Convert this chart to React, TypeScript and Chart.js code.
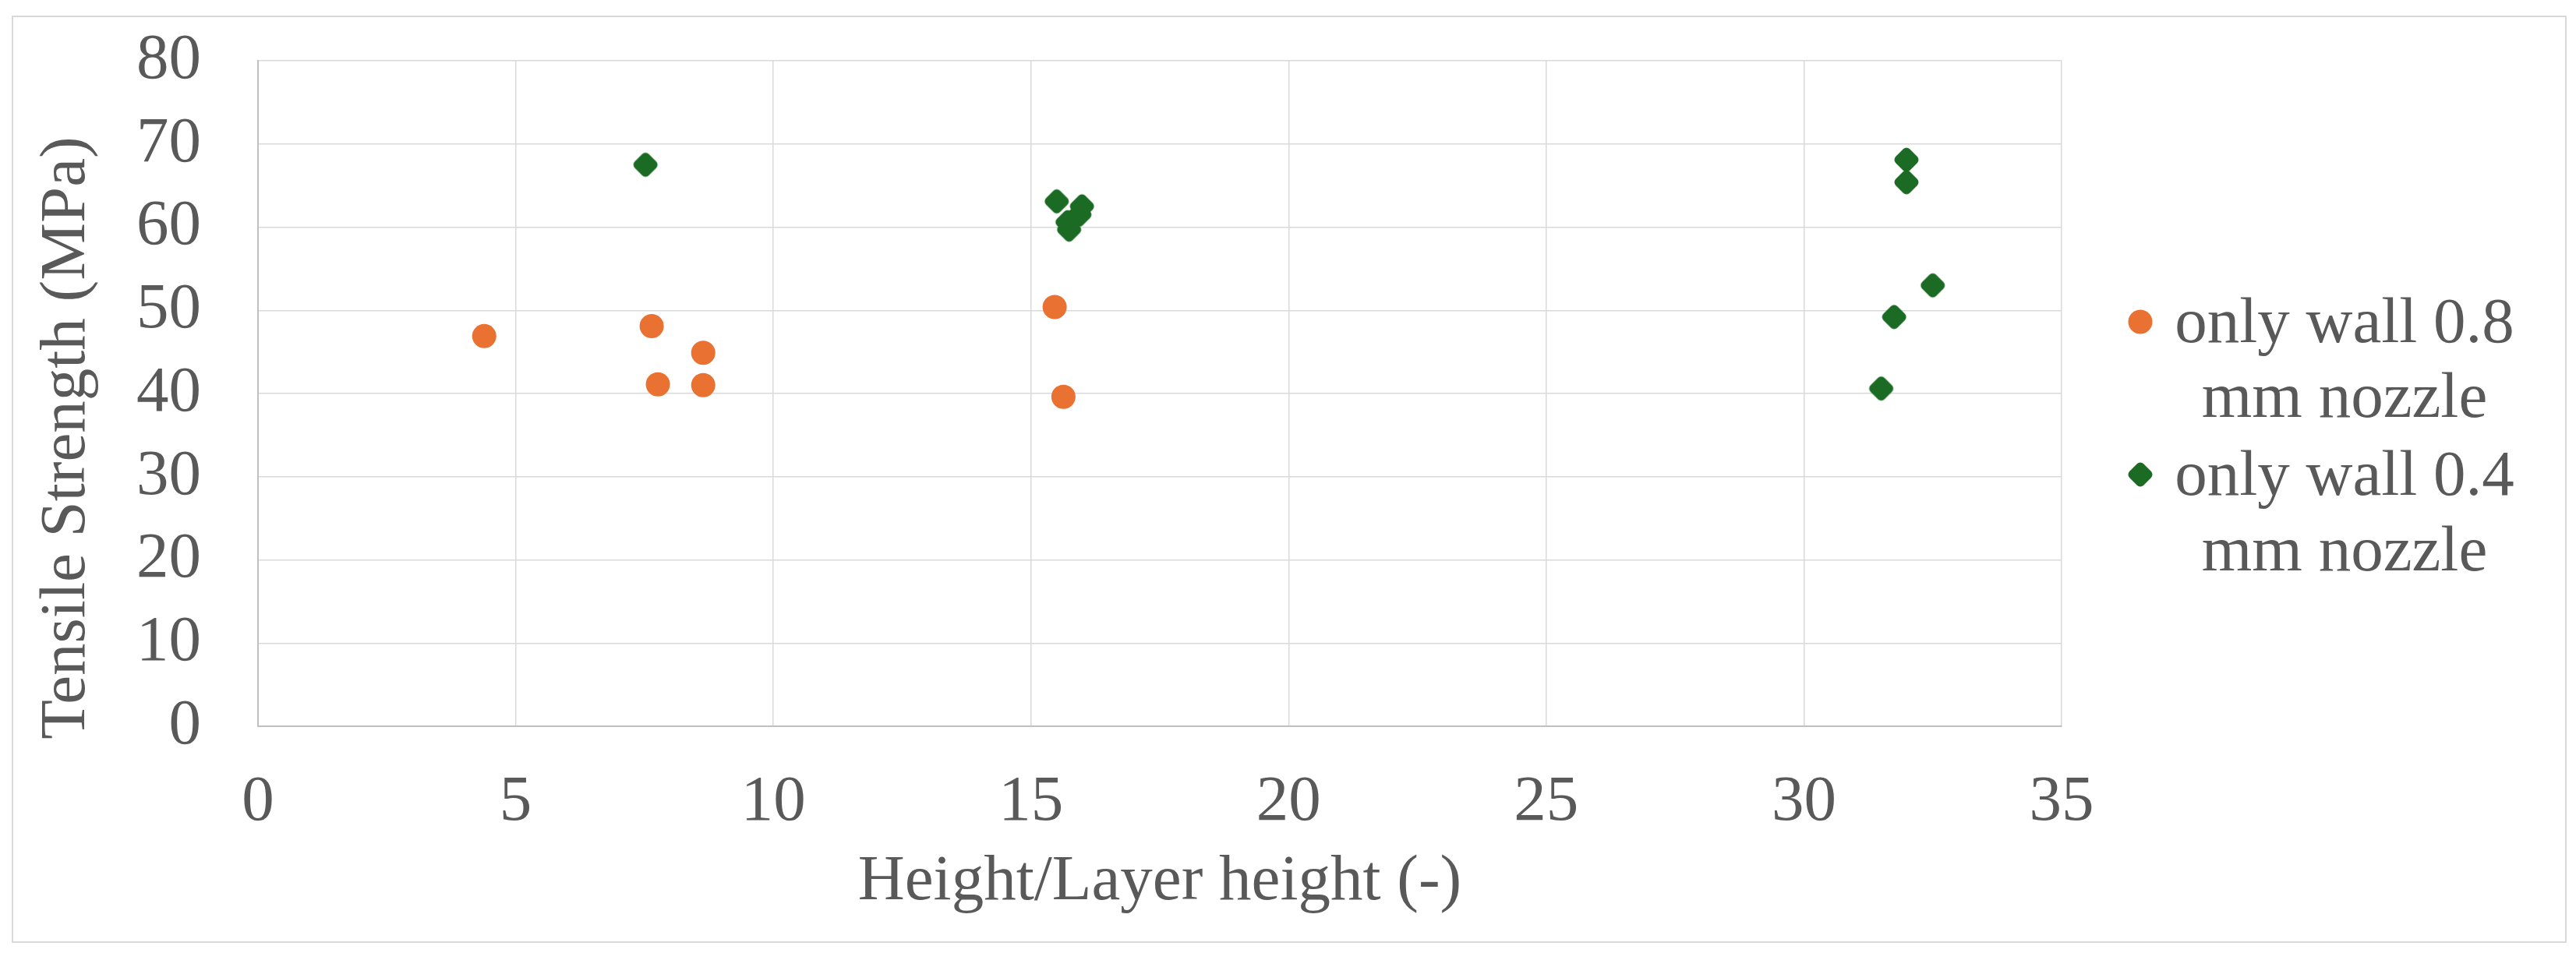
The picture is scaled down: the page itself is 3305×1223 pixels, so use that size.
import React, { useEffect, useRef } from "react";
import { Chart, registerables } from "chart.js";

Chart.register(...registerables);

// ---- data ----
const seriesNames = ["only wall 0.8 mm nozzle", "only wall 0.4 mm nozzle"];
const legendLines08 = ["only wall 0.8", "mm nozzle"];
const legendLines04 = ["only wall 0.4", "mm nozzle"];

const wall08X = [4.39, 7.64, 7.76, 8.64, 8.64, 15.46, 15.63];
const wall08Y = [46.9, 48.1, 41.1, 44.9, 41.0, 50.4, 39.6];

const wall04X = [7.52, 15.5, 15.99, 15.94, 15.71, 15.74, 31.99, 31.99, 32.5, 31.75, 31.5];
const wall04Y = [67.5, 63.1, 62.5, 61.5, 60.6, 59.7, 68.1, 65.4, 53.0, 49.2, 40.6];

const xTitle = "Height/Layer height (-)";
const yTitle = "Tensile Strength (MPa)";
const xRange = [0, 35, 5];
const yRange = [0, 80, 10];

const ORANGE = "#E97132";
const GREEN = "#1C6B25";
const TEXT = "#595959";
const FONT_FAMILY = "'Liberation Serif', 'Times New Roman', serif";
const FS = 83;

const W = 3305;
const H = 1223;

function makeDiamond(color: string): HTMLCanvasElement {
  const c = document.createElement("canvas");
  c.width = 34;
  c.height = 34;
  const ctx = c.getContext("2d")!;
  const x = 17, y = 17, r = 9.5;
  ctx.beginPath();
  ctx.moveTo(x - r, y);
  ctx.lineTo(x, y - r);
  ctx.lineTo(x + r, y);
  ctx.lineTo(x, y + r);
  ctx.closePath();
  ctx.fillStyle = color;
  ctx.strokeStyle = color;
  ctx.lineWidth = 12;
  ctx.lineJoin = "round";
  ctx.fill();
  ctx.stroke();
  return c;
}

export default function App() {
  const ref = useRef<HTMLCanvasElement | null>(null);

  useEffect(() => {
    document.body.style.margin = "0";
    const canvas = ref.current;
    if (!canvas) return;
    const diamond = makeDiamond(GREEN);

    const decorPlugin = {
      id: "decor",
      afterDraw(chart: any) {
        const ctx: CanvasRenderingContext2D = chart.ctx;
        ctx.save();
        // outer border
        ctx.strokeStyle = "#d9d9d9";
        ctx.lineWidth = 2;
        ctx.strokeRect(16, 21, 3276, 1188);

        // y axis title
        ctx.save();
        ctx.translate(86, 562);
        ctx.rotate(-Math.PI / 2);
        ctx.fillStyle = TEXT;
        ctx.font = `${FS}px ${FONT_FAMILY}`;
        ctx.textAlign = "center";
        ctx.textBaseline = "middle";
        ctx.fillText(yTitle, 0, 0);
        ctx.restore();

        // legend
        ctx.fillStyle = TEXT;
        ctx.font = `${FS}px ${FONT_FAMILY}`;
        ctx.textAlign = "center";
        ctx.textBaseline = "alphabetic";
        const cx = 3008;
        ctx.fillText(legendLines08[0], cx, 439);
        ctx.fillText(legendLines08[1], cx, 535);
        ctx.fillText(legendLines04[0], cx, 635);
        ctx.fillText(legendLines04[1], cx, 732);

        ctx.beginPath();
        ctx.fillStyle = ORANGE;
        ctx.arc(2746, 413, 15.5, 0, Math.PI * 2);
        ctx.fill();
        ctx.drawImage(diamond, 2746 - 17, 609 - 17);
        ctx.restore();
      },
    };

    const chart = new Chart(canvas, {
      type: "scatter",
      data: {
        datasets: [
          {
            label: seriesNames[0],
            data: wall08X.map((x, i) => ({ x, y: wall08Y[i] })),
            backgroundColor: ORANGE,
            borderColor: ORANGE,
            pointStyle: "circle",
            pointRadius: 15.5,
            pointBorderWidth: 0,
            pointHoverRadius: 15.5,
          },
          {
            label: seriesNames[1],
            data: wall04X.map((x, i) => ({ x, y: wall04Y[i] })),
            backgroundColor: GREEN,
            borderColor: GREEN,
            pointStyle: diamond,
            pointRadius: 15.5,
            pointBorderWidth: 0,
            pointHoverRadius: 15.5,
          },
        ],
      },
      options: {
        responsive: false,
        animation: false,
        devicePixelRatio: 1,
        layout: { padding: { top: 78, right: 660, bottom: 41, left: 0 } },
        plugins: {
          legend: { display: false },
          tooltip: { enabled: false },
          title: { display: false },
        },
        scales: {
          x: {
            type: "linear",
            min: xRange[0],
            max: xRange[1],
            ticks: {
              stepSize: xRange[2],
              padding: 0,
              autoSkip: false,
              color: TEXT,
              font: { family: FONT_FAMILY, size: FS },
              maxRotation: 0,
            },
            grid: {
              color: "#d9d9d9",
              lineWidth: 1.5,
              drawTicks: true,
              tickLength: 48,
              tickColor: "rgba(0,0,0,0)",
            },
            border: { color: "#bfbfbf", width: 2 },
            title: {
              display: true,
              text: xTitle,
              color: TEXT,
              font: { family: FONT_FAMILY, size: FS },
              padding: { top: 0, bottom: 0 },
            },
            afterFit: (scale: any) => {
              scale.height = 250;
            },
          },
          y: {
            type: "linear",
            min: yRange[0],
            max: yRange[1],
            ticks: {
              stepSize: yRange[2],
              padding: 0,
              autoSkip: false,
              color: TEXT,
              font: { family: FONT_FAMILY, size: FS },
            },
            grid: {
              color: "#d9d9d9",
              lineWidth: 1.5,
              drawTicks: true,
              tickLength: 73,
              tickColor: "rgba(0,0,0,0)",
            },
            border: { color: "#bfbfbf", width: 2 },
            title: { display: false },
            afterFit: (scale: any) => {
              scale.width = 331;
            },
          },
        },
      },
      plugins: [decorPlugin],
    });
    return () => chart.destroy();
  }, []);

  return (
    <div style={{ width: W, height: H, background: "#fff" }}>
      <canvas ref={ref} width={W} height={H} style={{ width: W, height: H, display: "block" }} />
    </div>
  );
}
